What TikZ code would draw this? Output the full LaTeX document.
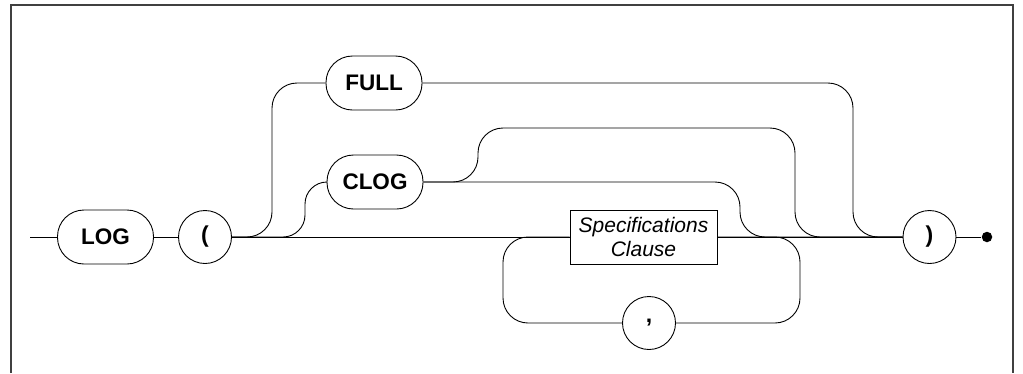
\documentclass[tikz,border=0pt]{standalone}
\usepackage{fontspec}
\setmainfont{Liberation Sans}
\begin{document}
\begin{tikzpicture}[x=1pt,y=-1pt, line width=0.9pt,
  kw/.style={draw, rounded corners=26.5pt, minimum width=96pt, minimum height=54pt, inner sep=0pt, font=\fontsize{22.5}{24}\selectfont\bfseries},
  term/.style={draw, circle, minimum size=53pt, inner sep=0pt, font=\fontsize{23}{24}\selectfont\bfseries},
  nonterm/.style={draw, rectangle, minimum width=147pt, minimum height=54pt, inner sep=0pt, align=center, font=\fontsize{21}{24}\selectfont\itshape},
  conn/.style={rounded corners=25pt},
  frame/.style={line width=1.3pt, black!75}]
\useasboundingbox (0,0) rectangle (1023,373);
\draw[frame] (11,373) -- (11,5) -- (1013,5) -- (1013,373);

\coordinate (start) at (30,237);
\node[kw] (log) at (105.5,237) {LOG};
\node[term] (lp) at (205,237) {(};
\node[kw] (full) at (374,83) {FULL};
\node[kw] (clog) at (375,182) {CLOG};
\node[nonterm] (spec) at (643.5,237) {Specifications\\Clause};
\node[term] (comma) at (649,323) {,};
\node[term] (rp) at (929.5,237) {)};
\node[circle, fill, inner sep=0pt, minimum size=10.5pt] (end) at (987,237) {};

\draw (start) -- (log);
\draw (log) -- (lp);
\draw (lp) -- (spec);
\draw (spec) -- (rp);
\draw (rp) -- (end);

\draw[conn] (lp.east) -- (272,237) -- (272,83) -- (full.west);
\draw[rounded corners=22pt] (lp.east) -- (305,237) -- (305,182) -- (clog.west);
\draw[conn] (clog.east) -- (740,182) -- (740,237) -- (rp.west);
\draw[conn] (clog.east) -- (478,182) -- (478,128) -- (795,128) -- (795,237) -- (rp.west);
\draw[conn] (full.east) -- (853,83) -- (853,237) -- (rp.west);
\draw[conn] (spec.east) -- (800,237) -- (800,323) -- (comma.east);
\draw[conn] (comma.west) -- (503,323) -- (503,237) -- (spec.west);
\end{tikzpicture}
\end{document}
